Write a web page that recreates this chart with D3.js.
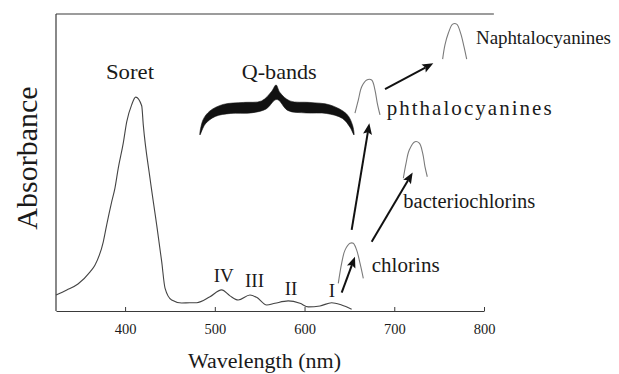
<!DOCTYPE html>
<html>
<head>
<meta charset="utf-8">
<script src="https://cdn.jsdelivr.net/npm/d3@7"></script>
<style>
  html, body { margin: 0; padding: 0; background: #fff; }
  svg { display: block; }
  svg text { font-family: "Liberation Serif", "Times New Roman", Times, "DejaVu Serif", serif; fill: #1a1a1a; }
</style>
</head>
<body>
<svg id="chart" width="619" height="374"></svg>
<script>
// ---------- Data ----------
const wavelength = [323, 335, 347.5, 361, 366.5, 375.7, 379.5, 385.1, 388.7, 392.4,
  398, 401.8, 407.3, 411.8, 418.5, 420.3, 427.7, 435.2, 440.8, 444.5,
  451.9, 463.1, 472.3, 479.8, 494.6, 507.6, 516.9, 526.1, 539.2, 546.6,
  557.8, 567, 581.8, 594.9, 604.1, 617.2, 630.2, 641.3, 652.5];
const absorbance = [0.054, 0.071, 0.091, 0.132, 0.155, 0.233, 0.290, 0.368, 0.414, 0.481,
  0.566, 0.637, 0.694, 0.720, 0.691, 0.626, 0.448, 0.290, 0.166, 0.077,
  0.037, 0.027, 0.028, 0.028, 0.048, 0.071, 0.051, 0.037, 0.054, 0.046,
  0.020, 0.026, 0.034, 0.026, 0.014, 0.017, 0.028, 0.020, 0.006];

const xTicks = [400, 500, 600, 700, 800];

// Q-band sketches (wavelength, absorbance)
const chlorinWl = [637.6, 641.4, 645.1, 650.7, 654.3, 658.1, 661.8, 665.5];
const chlorinAbs = [0.093, 0.161, 0.205, 0.228, 0.228, 0.205, 0.161, 0.110];
const bacterioWl = [710.1, 713.1, 716.7, 723.1, 727.9, 731.7, 734.2, 736.8];
const bacterioAbs = [0.447, 0.497, 0.542, 0.570, 0.565, 0.531, 0.486, 0.452];
const phthaloWl = [656.2, 659.9, 663.7, 669.3, 674.8, 678.5, 681.1, 684.1];
const phthaloAbs = [0.666, 0.710, 0.755, 0.778, 0.778, 0.744, 0.699, 0.660];
const naphthaWl = [753.9, 756.5, 760.2, 765.1, 769.5, 774.0, 777.7, 780.7];
const naphthaAbs = [0.848, 0.896, 0.935, 0.966, 0.966, 0.935, 0.890, 0.848];

// Band labels
const bandNames = ["IV", "III", "II", "I"];
const bandLabelWl = [509.9, 544.2, 584.9, 630.6];
const bandLabelAbs = [0.099, 0.082, 0.054, 0.048];

// Other labels (left edge wavelength, baseline absorbance)
const labelText = ["Soret", "Q-bands", "chlorins", "bacteriochlorins", "phthalocyanines", "Naphtalocyanines"];
const labelWl = [378.7, 530.0, 674.8, 710.1, 691.5, 791.1];
const labelAbs = [0.780, 0.781, 0.132, 0.346, 0.660, 0.898];

// Arrows
const arrowFromWl = [641.4, 652.5, 674.8, 689.7];
const arrowFromAbs = [0.062, 0.273, 0.233, 0.747];
const arrowToWl = [656.2, 672.2, 720.5, 743.5];
const arrowToAbs = [0.183, 0.632, 0.466, 0.834];

// Brace extent
const braceWl = [483.4, 655.1];
const braceAbs = [0.593, 0.761];

// ---------- Styles ----------
const FONT = "Liberation Serif, Times New Roman, Times, DejaVu Serif, serif";
const labelWidths = [48, 75, 68, 132, 165, 135];
const labelSizes = [21, 21.5, 21, 20.5, 21, 19];
const labelAdjust = ["spacingAndGlyphs", "spacingAndGlyphs", "spacing", "spacing", "spacing", "spacing"];

// ---------- Drawing ----------
const svg = d3.select("#chart");
const x = d3.scaleLinear().domain([323, 800]).range([56, 484]);
const y = d3.scaleLinear().domain([0, 1]).range([311, 14]);

// frame: left and top lines
svg.append("line").attr("x1", x(323)).attr("x2", x(323)).attr("y1", y(1)).attr("y2", y(0))
  .attr("stroke", "#3a3a3a").attr("stroke-width", 1.2);
svg.append("line").attr("x1", x(323)).attr("x2", x(811)).attr("y1", y(1)).attr("y2", y(1))
  .attr("stroke", "#3a3a3a").attr("stroke-width", 1.2);

// x axis
const xAxis = d3.axisBottom(x).tickValues(xTicks).tickSizeInner(-4).tickSizeOuter(0).tickPadding(13);
const gx = svg.append("g").attr("transform", `translate(0,${y(0)})`).call(xAxis)
  .attr("font-family", FONT).attr("font-size", 14.5);
gx.select(".domain").attr("stroke", "#3a3a3a").attr("stroke-width", 1.2);
gx.selectAll(".tick line").attr("stroke", "#3a3a3a");
gx.selectAll(".tick text").attr("font-family", FONT).attr("font-size", 14.5).attr("fill", "#1a1a1a");

// axis titles
svg.append("text").attr("x", 188).attr("y", 368).attr("font-family", FONT).attr("font-size", 20.5)
  .attr("textLength", 153).attr("lengthAdjust", "spacingAndGlyphs").text("Wavelength (nm)");
svg.append("text").attr("transform", "translate(37,158) rotate(-90)").attr("text-anchor", "middle")
  .attr("font-family", FONT).attr("font-size", 30).text("Absorbance");

// spectrum
const spec = wavelength.map((w, i) => [w, absorbance[i]]);
svg.append("path").datum(spec)
  .attr("d", d3.line().x(d => x(d[0])).y(d => y(d[1])).curve(d3.curveMonotoneX))
  .attr("fill", "none").attr("stroke", "#444").attr("stroke-width", 1.1);

// band sketches
const bands = [[chlorinWl, chlorinAbs], [bacterioWl, bacterioAbs], [phthaloWl, phthaloAbs], [naphthaWl, naphthaAbs]];
const bandLine = d3.line().x(d => x(d[0])).y(d => y(d[1])).curve(d3.curveCatmullRom.alpha(0.5));
bands.forEach(([ws, as]) => {
  svg.append("path").datum(ws.map((w, i) => [w, as[i]]))
    .attr("d", bandLine).attr("fill", "none").attr("stroke", "#7a7a7a").attr("stroke-width", 1.1);
});

// arrows
arrowFromWl.forEach((w, i) => {
  const x1 = x(w), y1 = y(arrowFromAbs[i]), x2 = x(arrowToWl[i]), y2 = y(arrowToAbs[i]);
  const ang = Math.atan2(y2 - y1, x2 - x1);
  const hl = 11, hw = 4.5;
  const bx = x2 - hl * Math.cos(ang), by = y2 - hl * Math.sin(ang);
  svg.append("line").attr("x1", x1).attr("y1", y1).attr("x2", bx + 2 * Math.cos(ang)).attr("y2", by + 2 * Math.sin(ang))
    .attr("stroke", "#111").attr("stroke-width", 2);
  const px = -Math.sin(ang), py = Math.cos(ang);
  svg.append("path")
    .attr("d", `M${x2},${y2}L${bx + hw * px},${by + hw * py}L${bx + 2 * Math.cos(ang)},${by + 2 * Math.sin(ang)}L${bx - hw * px},${by - hw * py}Z`)
    .attr("fill", "#111");
});

// curly brace (shape in local fractions of its extent)
const braceTop = [[0, 0], [0.02, 0.3], [0.065, 0.48], [0.151, 0.61], [0.281, 0.65], [0.4, 0.68], [0.465, 0.87], [0.494, 1],
  [0.519, 0.85], [0.584, 0.68], [0.714, 0.65], [0.844, 0.6], [0.952, 0.42], [0.99, 0.2], [1, 0]];
const braceBottom = [[0.975, 0.15], [0.925, 0.33], [0.82, 0.43], [0.69, 0.44], [0.57, 0.49], [0.509, 0.7],
  [0.487, 0.7], [0.43, 0.52], [0.33, 0.44], [0.2, 0.43], [0.1, 0.37], [0.035, 0.22]];
const bx0 = x(braceWl[0]), bx1 = x(braceWl[1]), by0 = y(braceAbs[0]), by1 = y(braceAbs[1]);
const bracePts = braceTop.concat(braceBottom).map(([u, v]) => [bx0 + u * (bx1 - bx0), by0 + v * (by1 - by0)]);
svg.append("path").datum(bracePts)
  .attr("d", d3.line().curve(d3.curveCatmullRomClosed.alpha(0.5)))
  .attr("fill", "#111").attr("stroke", "#111").attr("stroke-width", 0.6);

// band numeral labels
bandNames.forEach((t, i) => {
  svg.append("text").attr("x", x(bandLabelWl[i])).attr("y", y(bandLabelAbs[i]))
    .attr("font-family", FONT).attr("text-anchor", "middle").attr("font-size", 19).text(t);
});

// other labels
labelText.forEach((t, i) => {
  svg.append("text").attr("x", x(labelWl[i])).attr("y", y(labelAbs[i]))
    .attr("font-family", FONT).attr("font-size", labelSizes[i]).attr("textLength", labelWidths[i])
    .attr("lengthAdjust", labelAdjust[i]).text(t);
});
</script>
</body>
</html>
